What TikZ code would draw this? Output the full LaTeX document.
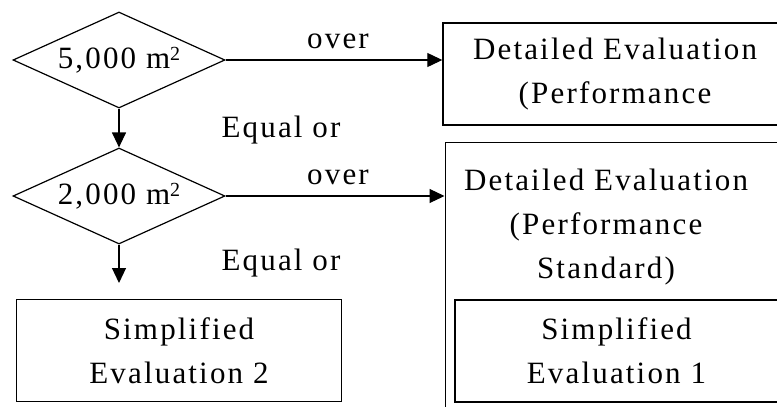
\documentclass[tikz,border=0pt]{standalone}
\usepackage{fontspec}
\setmainfont{Liberation Serif}[LetterSpace=7]
\usetikzlibrary{arrows.meta,shapes.geometric}
\newcommand{\sqsup}{\raisebox{8pt}{\fontsize{20}{20}\selectfont 2}}
\begin{document}
\begin{tikzpicture}[x=1pt,y=-1pt,
  every node/.style={font=\fontsize{31}{44}\selectfont},
  cond/.style={draw,shape=diamond,line width=1.2pt,minimum width=212pt,minimum height=96pt,inner sep=0pt,aspect=2.2},
  evalbox/.style={draw,line width=1.4pt,align=center,inner sep=0pt},
  flow/.style={line width=1.2pt,-{Triangle[length=15pt,width=14pt]}},
  lbl/.style={inner sep=0pt}]
\useasboundingbox (0,0) rectangle (777,407);
\clip (0,0) rectangle (777,407);
% decisions
\node[cond] (d1) at (119,60) {5,000 m\sqsup};
\node[cond] (d2) at (119,196) {2,000 m\sqsup};
% boxes
\node[evalbox,minimum width=344pt,minimum height=102pt] (b1) at (615,74) {Detailed Evaluation\\(Performance};
\node[evalbox,minimum width=360pt,minimum height=300pt,anchor=north west] (b2) at (444.5,141.5) {};
\node[lbl,align=center] (b2txt) at (606,227) {Detailed Evaluation\\(Performance\\Standard)};
\node[evalbox,minimum width=323pt,minimum height=102pt] (s1) at (616.5,351) {Simplified\\Evaluation 1};
\node[evalbox,minimum width=325pt,minimum height=102pt] (s2) at (179,350.5) {Simplified\\Evaluation 2};
\coordinate (e2) at (119,283);
% connectors
\draw[flow] (d1.east) -- (d1.east -| b1.west);
\draw[flow] (d2.east) -- (d2.east -| b2.west);
\draw[flow] (d1.south) -- (d2.north);
\draw[flow] (d2.south) -- (e2);
% labels
\node[lbl] (o1) at (338,41.5) {over};
\node[lbl] (o2) at (338,177) {over};
\node[lbl] (q1) at (281,130) {Equal or};
\node[lbl] (q2) at (281,263) {Equal or};
\end{tikzpicture}
\end{document}
